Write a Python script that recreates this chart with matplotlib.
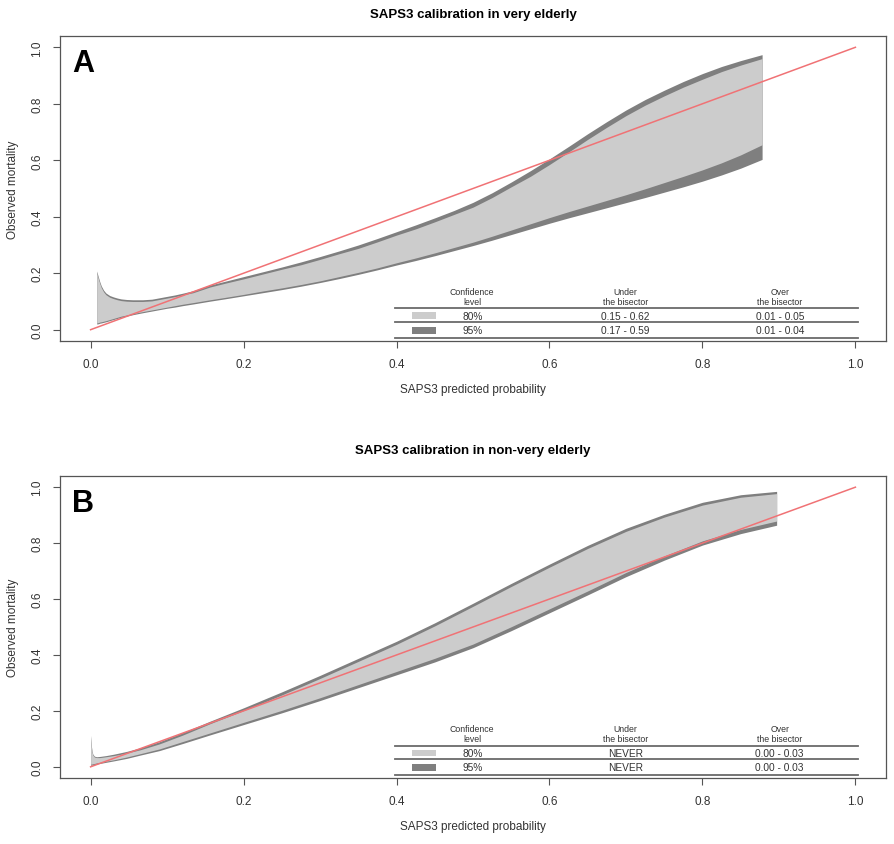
import matplotlib
matplotlib.use("Agg")
import matplotlib.pyplot as plt
from matplotlib.patches import Rectangle

plt.rcParams['font.family'] = ['Liberation Sans Narrow', 'Liberation Sans', 'DejaVu Sans']

# ---------------- data ----------------
titles = ["SAPS3 calibration in very elderly", "SAPS3 calibration in non-very elderly"]
panel_letters = ["A", "B"]
xlabel = "SAPS3 predicted probability"
ylabel = "Observed mortality"
ticks = [0.0, 0.2, 0.4, 0.6, 0.8, 1.0]
tick_labels = ["0.0", "0.2", "0.4", "0.6", "0.8", "1.0"]

# Panel A bands
xA = [0.008, 0.010, 0.012, 0.014, 0.017, 0.020, 0.025, 0.030, 0.035, 0.040, 0.047, 0.055, 0.068,
      0.080, 0.090, 0.100, 0.110, 0.120, 0.134, 0.145, 0.156, 0.175, 0.200, 0.225, 0.250, 0.275,
      0.300, 0.325, 0.350, 0.375, 0.400, 0.425, 0.450, 0.475, 0.500, 0.525, 0.550, 0.575, 0.600,
      0.625, 0.650, 0.675, 0.700, 0.725, 0.750, 0.775, 0.800, 0.825, 0.850, 0.878]
u95A = [0.208, 0.188, 0.170, 0.155, 0.140, 0.130, 0.121, 0.116, 0.112, 0.109, 0.107, 0.106, 0.106,
        0.108, 0.113, 0.118, 0.123, 0.129, 0.138, 0.148, 0.158, 0.171, 0.188, 0.205, 0.222, 0.240,
        0.259, 0.279, 0.300, 0.323, 0.347, 0.371, 0.396, 0.422, 0.451, 0.485, 0.523, 0.563, 0.605,
        0.649, 0.694, 0.737, 0.778, 0.815, 0.848, 0.879, 0.907, 0.932, 0.953, 0.974]
u80A = [0.202, 0.182, 0.164, 0.149, 0.134, 0.124, 0.115, 0.110, 0.106, 0.103, 0.101, 0.100, 0.100,
        0.102, 0.107, 0.112, 0.117, 0.123, 0.131, 0.141, 0.151, 0.164, 0.180, 0.197, 0.214, 0.230,
        0.249, 0.269, 0.288, 0.311, 0.335, 0.357, 0.382, 0.408, 0.434, 0.468, 0.506, 0.543, 0.585,
        0.629, 0.674, 0.717, 0.758, 0.795, 0.828, 0.859, 0.887, 0.914, 0.937, 0.960]
l80A = [0.024, 0.025, 0.027, 0.028, 0.030, 0.032, 0.036, 0.040, 0.044, 0.048, 0.052, 0.057, 0.064,
        0.070, 0.075, 0.080, 0.085, 0.090, 0.096, 0.101, 0.106, 0.114, 0.125, 0.137, 0.148, 0.160,
        0.173, 0.188, 0.203, 0.219, 0.237, 0.254, 0.272, 0.291, 0.310, 0.331, 0.353, 0.375, 0.397,
        0.418, 0.438, 0.458, 0.478, 0.499, 0.521, 0.543, 0.566, 0.591, 0.619, 0.655]
l95A = [0.020, 0.021, 0.023, 0.024, 0.026, 0.028, 0.032, 0.036, 0.040, 0.044, 0.048, 0.053, 0.060,
        0.066, 0.071, 0.076, 0.080, 0.085, 0.091, 0.096, 0.101, 0.109, 0.120, 0.131, 0.142, 0.154,
        0.167, 0.181, 0.196, 0.212, 0.229, 0.245, 0.262, 0.280, 0.298, 0.317, 0.337, 0.357, 0.377,
        0.396, 0.414, 0.432, 0.450, 0.468, 0.487, 0.506, 0.526, 0.548, 0.572, 0.603]

# Panel B bands
xB = [0.0, 0.001, 0.002, 0.003, 0.005, 0.008, 0.012, 0.02, 0.03, 0.047, 0.065, 0.09, 0.12, 0.156,
      0.2, 0.25, 0.3, 0.35, 0.4, 0.45, 0.5, 0.55, 0.6, 0.65, 0.7, 0.75, 0.8, 0.85, 0.897]
u95B = [0.112, 0.075, 0.055, 0.045, 0.038, 0.036, 0.037, 0.040, 0.045, 0.055, 0.068, 0.090, 0.122,
        0.163, 0.211, 0.268, 0.327, 0.388, 0.449, 0.515, 0.585, 0.656, 0.725, 0.792, 0.853, 0.903,
        0.946, 0.973, 0.985]
u80B = [0.110, 0.072, 0.052, 0.042, 0.035, 0.033, 0.033, 0.036, 0.040, 0.049, 0.061, 0.082, 0.113,
        0.154, 0.201, 0.257, 0.316, 0.377, 0.438, 0.504, 0.574, 0.645, 0.714, 0.781, 0.842, 0.893,
        0.936, 0.964, 0.977]
l80B = [0.009, 0.010, 0.010, 0.011, 0.012, 0.014, 0.016, 0.020, 0.025, 0.035, 0.047, 0.064, 0.090,
        0.121, 0.159, 0.202, 0.247, 0.294, 0.341, 0.388, 0.439, 0.501, 0.565, 0.629, 0.695, 0.754,
        0.808, 0.849, 0.879]
l95B = [0.005, 0.006, 0.006, 0.007, 0.008, 0.010, 0.012, 0.016, 0.021, 0.030, 0.042, 0.058, 0.083,
        0.114, 0.151, 0.193, 0.237, 0.283, 0.329, 0.375, 0.426, 0.487, 0.551, 0.615, 0.680, 0.739,
        0.793, 0.834, 0.864]

# Legend tables
conf_levels = ["80%", "95%"]
under_A = ["0.15 - 0.62", "0.17 - 0.59"]
over_A = ["0.01 - 0.05", "0.01 - 0.04"]
under_B = ["NEVER", "NEVER"]
over_B = ["0.00 - 0.03", "0.00 - 0.03"]
headers = [("Confidence", "level"), ("Under", "the bisector"), ("Over", "the bisector")]

LIGHT = "#cccccc"
DARK = "#7f7f7f"
RED = "#f07275"
TXT = "#333333"

# ---------------- figure ----------------
fig = plt.figure(figsize=(8.94, 8.45), dpi=100)
W, H = 894, 845

def make_axes(top_px, bot_px):
    left, right = 60, 886
    return fig.add_axes([left / W, (H - bot_px) / H, (right - left) / W, (bot_px - top_px) / H])

axA = make_axes(37, 342)
axB = make_axes(477, 779)

def draw_panel(ax, x, u95, u80, l80, l95, under, over, letter, title, title_y):
    ax.set_xlim(-0.04, 1.04)
    ax.set_ylim(-0.04, 1.04)
    ax.fill_between(x, l95, u95, color=DARK, lw=0, zorder=1)
    ax.fill_between(x, l80, u80, color=LIGHT, lw=0, zorder=2)
    ax.plot([0, 1], [0, 1], color=RED, lw=1.1, zorder=3)

    for s in ax.spines.values():
        s.set_color("#555555")
        s.set_linewidth(0.9)
    ax.set_xticks(ticks)
    ax.set_xticklabels(tick_labels)
    ax.set_yticks(ticks)
    ax.set_yticklabels(tick_labels)
    ax.tick_params(axis='both', direction='out', length=5, width=0.8, color="#555555",
                   labelsize=8.5, labelcolor=TXT)
    ax.tick_params(axis='x', pad=7)
    ax.tick_params(axis='y', pad=7, labelrotation=90)
    for lab in ax.get_yticklabels():
        lab.set_va('center')

    ax.set_xlabel(xlabel, fontsize=8.5, color=TXT)
    ax.xaxis.label.set_va('center')
    bb = ax.get_position()
    hpx = bb.height * H
    wpx = bb.width * W
    ax.xaxis.set_label_coords(0.5, -48 / hpx)
    ax.set_ylabel(ylabel, fontsize=8.5, color=TXT)
    ax.yaxis.label.set_va('center')
    ax.yaxis.set_label_coords(-47 / wpx, 0.5)

    ax.text(-0.01, 0.945, letter, fontsize=22, fontweight='bold', ha='center', va='center',
            family=['Liberation Sans', 'DejaVu Sans'], color='black')

    fig.text(0.5 * (60 + 886) / W, 1 - title_y / H, title, ha='center', va='center',
             fontsize=9.5, fontweight='bold', color='black')

    # table
    x0, x1 = 0.398, 1.003
    cols = [0.499, 0.699, 0.901]
    hy1, hy2 = 0.137, 0.101
    for c, (h1, h2) in zip(cols, headers):
        ax.text(c, hy1, h1, fontsize=6.3, ha='center', va='center', color=TXT)
        ax.text(c, hy2, h2, fontsize=6.3, ha='center', va='center', color=TXT)
    line_ys = [0.076, 0.027, -0.028]
    for ly in line_ys:
        ax.plot([x0, x1], [ly, ly], color="#6a6a6a", lw=1.3, clip_on=False, zorder=4)
    row_ys = [0.049, -0.002]
    colors = [LIGHT, DARK]
    for ry, cl, un, ov, colr in zip(row_ys, conf_levels, under, over, colors):
        ax.add_patch(Rectangle((0.42, ry - 0.012), 0.031, 0.024, facecolor=colr,
                               edgecolor='none', zorder=4))
        ax.text(cols[0], ry, cl, fontsize=7.3, ha='center', va='center', color=TXT)
        ax.text(cols[1], ry, un, fontsize=7.3, ha='center', va='center', color=TXT)
        ax.text(cols[2], ry, ov, fontsize=7.3, ha='center', va='center', color=TXT)

draw_panel(axA, xA, u95A, u80A, l80A, l95A, under_A, over_A, panel_letters[0], titles[0], 15)
draw_panel(axB, xB, u95B, u80B, l80B, l95B, under_B, over_B, panel_letters[1], titles[1], 451)

fig.savefig("out.png", dpi=100)
